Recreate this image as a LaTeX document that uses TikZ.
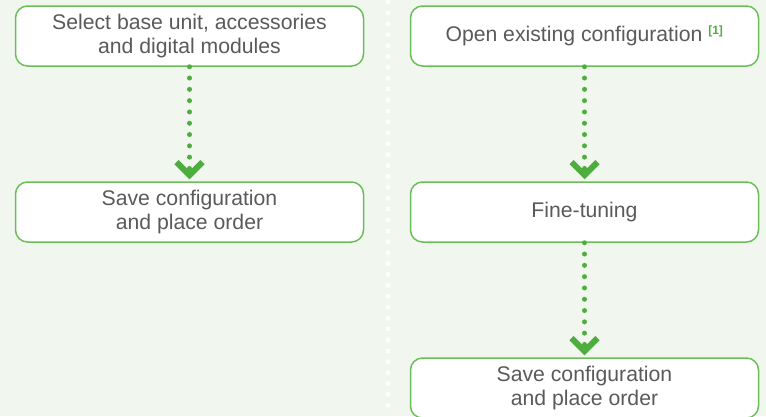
\documentclass[tikz,border=0pt]{standalone}
\usepackage{fontspec}
\setmainfont{Liberation Sans}
\usepackage{xcolor}
\usepackage{tikz}
\usetikzlibrary{positioning}
\usetikzlibrary{arrows.meta}
\definecolor{bggreen}{HTML}{F1F6EE}
\definecolor{boxgreen}{HTML}{6BBF59}
\definecolor{arrowgreen}{HTML}{4DAE3F}
\definecolor{textgray}{HTML}{5A5A5A}
\tikzstyle{stepbox}=[rectangle,rounded corners=12pt,draw=boxgreen,line width=1.5pt,fill=white,minimum width=348pt,minimum height=60pt,inner sep=0pt,align=center,text=textgray,font=\fontsize{21.2}{24}\selectfont]
\tikzset{flow/.style={draw=arrowgreen,line width=5pt,line cap=round,dash pattern=on 0pt off 11.3pt,-{Straight Barb[length=13pt,width=26pt,line width=6pt]},shorten >=2pt}}
\tikzset{divider/.style={draw=white,line width=5pt,line cap=round,dash pattern=on 0pt off 10.9pt}}
\newcommand{\fnote}{\textsuperscript{\textcolor{arrowgreen}{\bfseries\fontsize{12}{12}\selectfont[1]}}}

\begin{document}
\begin{tikzpicture}[x=1pt,y=-1pt]

    \fill[bggreen] (0,0) rectangle (766,416);
    \useasboundingbox (0,0) rectangle (766,416);
    \draw[divider] (388,2) -- (388,416);

    \foreach \pos/\name/\txt in {{(189.5,36)/sel/{Select base unit, accessories\\and digital modules}},
                                 {(189.5,212)/saveA/{Save configuration\\and place order}},
                                 {(584.5,36)/open/{Open existing configuration \fnote}},
                                 {(584.5,212)/tune/{Fine-tuning}},
                                 {(584.5,388)/saveB/{Save configuration\\and place order}}}
        \node[stepbox] (\name) at \pos {\txt};

    \draw[flow] (sel) -- (saveA);

    \draw[flow] (open) -- (tune);
    \draw[flow] (tune) -- (saveB);

\end{tikzpicture}
\end{document}
